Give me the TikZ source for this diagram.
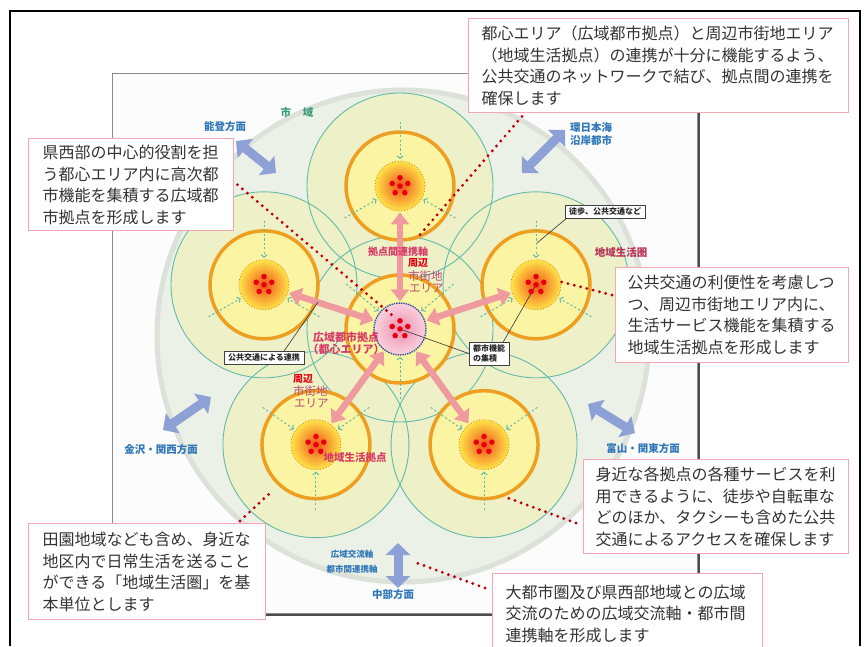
\documentclass[tikz,border=0pt]{standalone}
\usepackage{fontspec}
\setmainfont{Noto Sans CJK JP}
\usetikzlibrary{arrows.meta,calc}
\definecolor{tealc}{HTML}{62BBA9}
\definecolor{zonec}{HTML}{EEF0C8}
\definecolor{bigc}{HTML}{ECF1E7}
\definecolor{bigedge}{HTML}{DCE1D9}
\definecolor{orangec}{HTML}{EE9F22}
\definecolor{yellowc}{HTML}{FBF4A2}
\definecolor{hubin}{HTML}{F0501A}
\definecolor{hubout}{HTML}{FFE448}
\definecolor{hubedge}{HTML}{D8892A}
\definecolor{pinkin}{HTML}{EE8DAE}
\definecolor{pinkout}{HTML}{F9D2DE}
\definecolor{dotblue}{HTML}{2B4FA0}
\definecolor{pinkarrow}{HTML}{EE9A9F}
\definecolor{bluearrow}{HTML}{8EA1D6}
\definecolor{bluetext}{HTML}{2F77B8}
\definecolor{crimson}{HTML}{D83A66}
\definecolor{mauve}{HTML}{B84A78}
\definecolor{dotred}{HTML}{C00010}
\definecolor{spotred}{HTML}{E60012}
\definecolor{calloutedge}{HTML}{F2A7B2}
\definecolor{txt}{HTML}{333333}
\definecolor{sitext}{HTML}{3A9A7A}
\begin{document}
\begin{tikzpicture}[x=1pt,y=-1pt,
  zoneline/.style={draw=tealc, line width=0.9pt},
  ring/.style={fill=yellowc, draw=orangec, line width=3.5pt},
  hub/.style={circle, minimum size=50pt, inner sep=0pt, inner color=hubin, outer color=hubout, draw=hubedge, dotted, line width=0.9pt},
  centerhub/.style={circle, minimum size=52pt, inner sep=0pt, inner color=pinkin, outer color=pinkout, draw=dotblue, densely dotted, line width=1.4pt},
  dashln/.style={draw=tealc, line width=1pt, dash pattern=on 2.2pt off 2.2pt, -{Straight Barb[length=2.5pt,width=6pt]}},
  pinkA/.style={draw=pinkarrow, line width=6.5pt, {Triangle[width=18pt,length=12pt]}-{Triangle[width=18pt,length=12pt]}, shorten <=1pt, shorten >=1pt},
  blueA/.style={draw=bluearrow, line width=9pt, {Triangle[width=24pt,length=12pt]}-{Triangle[width=24pt,length=12pt]}},
  reddot/.style={draw=dotred, line width=3.2pt, line cap=round, dash pattern=on 0pt off 6.5pt},
  callout/.style={draw=calloutedge, line width=1.4pt, fill=white, text=txt, font=\fontsize{16}{21.5}\selectfont, align=left, anchor=north west, inner ysep=0pt},
  smallbox/.style={draw=black!75, fill=white, line width=0.6pt, text=black!85, font=\bfseries\fontsize{8}{10}\selectfont, inner xsep=4pt, inner ysep=2.5pt, align=left},
  thinln/.style={draw=black!80, line width=0.6pt},
  bluelbl/.style={text=bluetext, font=\bfseries\fontsize{10.5}{13}\selectfont, inner sep=0pt, align=center},
  redlbl/.style={text=crimson, font=\bfseries\fontsize{10.5}{12.5}\selectfont, inner sep=0pt, align=center},
  shuhen/.style={text=spotred, font=\bfseries\fontsize{10}{12}\selectfont, inner sep=0pt, anchor=west},
  area/.style={text=mauve, font=\fontsize{11.5}{13}\selectfont, inner sep=0pt, anchor=west}
]
\useasboundingbox (0,0) rectangle (867,646);
\fill[white] (0,0) rectangle (867,646);
% frames
\draw[line width=1.2pt] (10,646) -- (10,11) -- (860,11) -- (860,646);
\fill[black!70] (114.5,75.5) rectangle (699.5,615.5);
\filldraw[fill=black!1, draw=black!45, line width=0.8pt] (112,73) rectangle (697,613);
% city area
\filldraw[fill=bigc, draw=bigedge, line width=5pt] (403,336) circle[radius=246pt];
% hub centres
\coordinate (Cc) at (400,329);
\coordinate (Tc) at ($(Cc)+(-90:143)$);
\coordinate (URc) at ($(Cc)+(-18:143)$);
\coordinate (LRc) at ($(Cc)+(54:143)$);
\coordinate (LLc) at ($(Cc)+(126:143)$);
\coordinate (ULc) at ($(Cc)+(198:143)$);
% zones
\foreach \n in {Cc,Tc,URc,LRc,LLc,ULc} \fill[zonec] (\n) circle[radius=93pt];
\foreach \n in {Cc,Tc,URc,LRc,LLc,ULc} \draw[zoneline] (\n) circle[radius=93pt];
% rings
\foreach \n in {Cc,Tc,URc,LRc,LLc,ULc} \filldraw[ring] (\n) circle[radius=54pt];
% dashed access lines
\foreach \n in {Tc,ULc,URc} \foreach \a in {-90,30,150} \draw[dashln] ($(\n)+(\a:64)$) -- ($(\n)+(\a:27)$);
\foreach \n in {LLc,LRc} \foreach \a in {-145,-35,90} \draw[dashln] ($(\n)+(\a:65)$) -- ($(\n)+(\a:27)$);
\foreach \a in {-140,-40,90} \draw[dashln] ($(Cc)+(\a:70)$) -- ($(Cc)+(\a:28)$);
% hubs
\node[centerhub] (C) at (Cc) {};
\node[hub] (T) at (Tc) {};
\node[hub] (UR) at (URc) {};
\node[hub] (LR) at (LRc) {};
\node[hub] (LL) at (LLc) {};
\node[hub] (UL) at (ULc) {};
% pink links
\foreach \n in {T,UR,LR,LL,UL} \draw[pinkA] (C) -- (\n);
% small boxes and their leaders
\node[smallbox] (toho) at (605,211.5) {徒歩、公共交通など};
\node[smallbox] (renkei) at (264,357.5) {公共交通による連携};
\node[smallbox] (toshi) at (489,353.5) {都市機能\\の集積};
\coordinate (tohoEnd) at (537,243);
\coordinate (renkeiEnd) at (318,302);
\draw[thinln] ($(toho.south west)+(2,0)$) -- (tohoEnd);
\draw[thinln] ($(renkei.north east)+(-20,0)$) -- (renkeiEnd);
\draw[thinln] (toshi.west) -- (C.center);
\draw[thinln] ($(toshi.north east)+(-6,0)$) -- (UR.center);
% red spots
\foreach \n in {C,T,UR,LR,LL,UL} {
  \fill[spotred] (\n) circle[radius=2.8pt];
  \foreach \k in {0,...,4} \fill[spotred] ($(\n)+({-90+72*\k}:8.2)$) circle[radius=2.8pt];
}
% outward blue arrows
\coordinate (noA) at (236,141); \coordinate (noB) at (276,173);
\coordinate (kaA) at (522,173); \coordinate (kaB) at (565,130);
\coordinate (keA) at (163,430); \coordinate (keB) at (211,397);
\coordinate (toA) at (588,404); \coordinate (toB) at (635,433);
\coordinate (chA) at (398,543); \coordinate (chB) at (398,588);
\draw[blueA] (noA) -- (noB);
\draw[blueA] (kaA) -- (kaB);
\draw[blueA] (keA) -- (keB);
\draw[blueA] (toA) -- (toB);
\draw[blueA] (chA) -- (chB);
% blue labels
\node[text=sitext, font=\bfseries\fontsize{10.5}{13}\selectfont, inner sep=0pt] (shiiki) at (297,112) {市\hspace{12pt}域};
\node[bluelbl] (noto) at (225,127) {能登方面};
\node[bluelbl] (kannihon) at (591,134) {環日本海\\沿岸都市};
\node[bluelbl] (kanazawa) at (161,450) {金沢・関西方面};
\node[bluelbl] (toyama) at (643,449) {富山・関東方面};
\node[bluelbl] (chubu) at (393,595) {中部方面};
\node[bluelbl, font=\bfseries\fontsize{8.5}{14.5}\selectfont] (jiku) at (352,562) {広域交流軸\\都市間連携軸};
% red labels
\node[redlbl, font=\bfseries\fontsize{10}{12}\selectfont] (kyotenkan) at (398,252) {拠点間連携軸};
\node[shuhen] (sh1) at (408,263) {周辺};
\node[area] (ar1a) at (408,276) {市街地};
\node[area] (ar1b) at (409,288) {エリア};
\node[shuhen] (sh2) at (293,379) {周辺};
\node[area] (ar2a) at (293,391) {市街地};
\node[area] (ar2b) at (294,403) {エリア};
\node[redlbl, font=\bfseries\fontsize{11}{12}\selectfont] (kouiki) at (346,343) {広域都市拠点\\（都心エリア）};
\node[redlbl] (seikatsu) at (355,458) {地域生活拠点};
\node[redlbl, text=crimson!85!black] (seikatsuken) at (621,252) {地域生活圏};
% callouts
\node[callout, text width=354pt, inner xsep=13pt, minimum height=94pt] (ctop) at (468,18) {都心エリア（広域都市拠点）と周辺市街地エリア\\（地域生活拠点）の連携が十分に機能するよう、\\公共交通のネットワークで結び、拠点間の連携を\\確保します};
\node[callout, text width=177pt, inner xsep=14pt, minimum height=92pt] (cleft) at (28,138) {県西部の中心的役割を担\\う都心エリア内に高次都\\市機能を集積する広域都\\市拠点を形成します};
\node[callout, text width=209pt, inner xsep=12pt, minimum height=95pt] (cright) at (615,267) {公共交通の利便性を考慮しつ\\つ、周辺市街地エリア内に、\\生活サービス機能を集積する\\地域生活拠点を形成します};
\node[callout, text width=241pt, inner xsep=12pt, minimum height=94pt] (clr) at (583,459) {身近な各拠点の各種サービスを利\\用できるように、徒歩や自転車な\\どのほか、タクシーも含めた公共\\交通によるアクセスを確保します};
\node[callout, text width=209pt, inner xsep=14pt, minimum height=96pt] (cbl) at (28,523) {田園地域なども含め、身近な\\地区内で日常生活を送ること\\ができる「地域生活圏」を基\\本単位とします};
\node[callout, text width=244pt, inner xsep=13pt, minimum height=80pt] (cbr) at (492,573) {大都市圏及び県西部地域との広域\\交流のための広域交流軸・都市間\\連携軸を形成します};
% red dotted leaders
\coordinate (dA) at (418,237);
\coordinate (dB) at (393,316);
\coordinate (dC) at (558,281);
\coordinate (dD) at (508,498);
\coordinate (dE) at (270,493);
\coordinate (dF) at (417,563);
\draw[reddot] ($(ctop.south west)+(54,3)$) -- (dA);
\draw[reddot] ($(cleft.east)+(3,0)$) -- (dB);
\draw[reddot] ($(cright.north west)+(-3,28)$) -- (dC);
\draw[reddot] ($(clr.north west)+(-7,64)$) -- (dD);
\draw[reddot] ($(cbl.north west)+(212,-2)$) -- (dE);
\draw[reddot] ($(cbr.north west)+(-7,15)$) -- (dF);
\end{tikzpicture}
\end{document}
